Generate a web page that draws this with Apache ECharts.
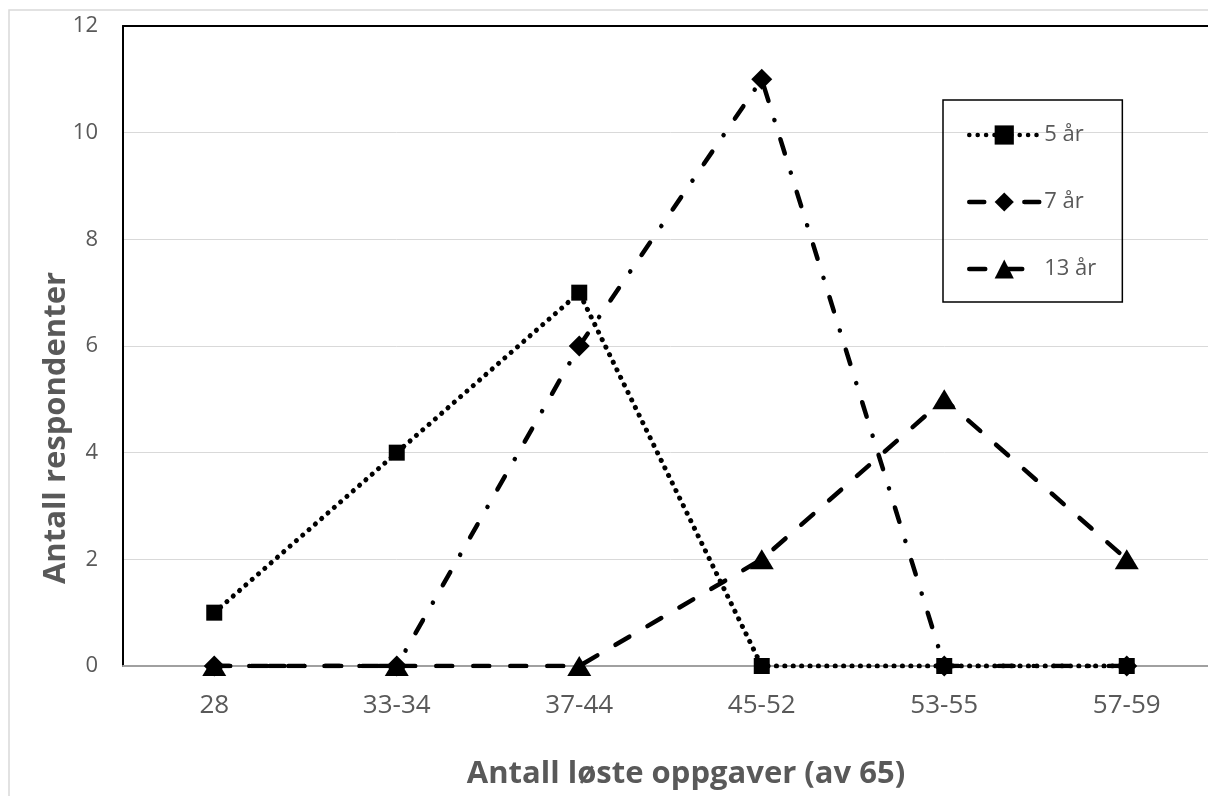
<!DOCTYPE html>
<html>
<head>
  <meta charset="utf-8">
  <title>Antall respondenter</title>
  <script src="https://cdn.jsdelivr.net/npm/echarts@6/dist/echarts.min.js"></script>
  <style>
    html, body { margin: 0; padding: 0; background: #fff; overflow: hidden; }
    /* the plot area runs ~10px past the right edge of the picture, so the
       chart is a little wider than the window and gets cropped */
    #graph { width: 1218px; height: 796px; }
  </style>
</head>
<body>
  <div id="graph"></div>

  <script>
    // categories and values
    var categories = ['28', '33-34', '37-44', '45-52', '53-55', '57-59'];
    var age5 = [1, 4, 7, 0, 0, 0];
    var age7 = [0, 0, 6, 11, 0, 0];
    var age13 = [0, 0, 0, 2, 5, 2];
    var seriesNames = ['5 år', '7 år', '13 år'];

    var font = '"Open Sans", "Noto Sans", sans-serif';
    var grey = '#595959';

    var myChart = echarts.init(document.getElementById('graph'));

    var option = {
      animation: false,
      backgroundColor: '#fff',
      textStyle: { fontFamily: font },
      grid: { left: 123, top: 26, width: 1095, height: 640, containLabel: false },
      legend: {
        orient: 'vertical',
        left: 943,
        top: 100,
        data: seriesNames,
        padding: [24, 26, 22, 24],
        itemGap: 45,
        itemWidth: 70,
        itemHeight: 24,
        borderColor: '#000',
        borderWidth: 1.5,
        lineStyle: { width: 4.5 },
        textStyle: { color: grey, fontSize: 22, fontFamily: font }
      },
      xAxis: [{
        type: 'category',
        data: categories,
        boundaryGap: true,
        axisTick: { show: false },
        axisLine: { lineStyle: { color: '#a0a0a0', width: 2 } },
        axisLabel: { color: grey, fontSize: 26, margin: 27 },
        splitLine: { show: false }
      }, {
        // top border of the plot area
        type: 'category',
        position: 'top',
        data: categories,
        axisTick: { show: false },
        axisLabel: { show: false },
        axisLine: { lineStyle: { color: '#000', width: 2 } }
      }],
      yAxis: {
        type: 'value',
        min: 0,
        max: 12,
        interval: 2,
        axisLine: { show: true, lineStyle: { color: '#000', width: 2 } },
        axisTick: { show: false },
        axisLabel: { color: grey, fontSize: 22, margin: 25 },
        splitLine: { lineStyle: { color: '#d9d9d9', width: 1 } }
      },
      graphic: [
        {
          type: 'rect',
          z: -1,
          shape: { x: 9, y: 10, width: 1400, height: 1000 },
          style: { fill: 'none', stroke: '#d9d9d9', lineWidth: 1.5 }
        },
        {
          type: 'text',
          x: 56,
          y: 428,
          rotation: Math.PI / 2,
          style: {
            text: 'Antall respondenter',
            font: 'bold 31px ' + font,
            fill: grey,
            textAlign: 'center',
            textVerticalAlign: 'middle'
          }
        },
        {
          type: 'text',
          x: 686,
          y: 774,
          style: {
            text: 'Antall løste oppgaver (av 65)',
            font: 'bold 31px ' + font,
            fill: grey,
            textAlign: 'center',
            textVerticalAlign: 'middle'
          }
        }
      ],
      series: [
        {
          name: seriesNames[0],
          type: 'line',
          data: age5,
          symbol: 'rect',
          symbolSize: 16,
          itemStyle: { color: '#000' },
          lineStyle: { color: '#000', width: 5, type: [0.1, 8.3], cap: 'round' }
        },
        {
          name: seriesNames[1],
          type: 'line',
          data: age7,
          symbol: 'diamond',
          symbolSize: 21,
          itemStyle: { color: '#000' },
          lineStyle: { color: '#000', width: 4.5, type: [15, 20, 0.1, 20], cap: 'round' }
        },
        {
          name: seriesNames[2],
          type: 'line',
          data: age13,
          symbol: 'triangle',
          symbolSize: [24, 20],
          itemStyle: { color: '#000' },
          lineStyle: { color: '#000', width: 4.5, type: [16, 21], cap: 'round' }
        }
      ]
    };

    myChart.setOption(option);
  </script>
</body>
</html>
